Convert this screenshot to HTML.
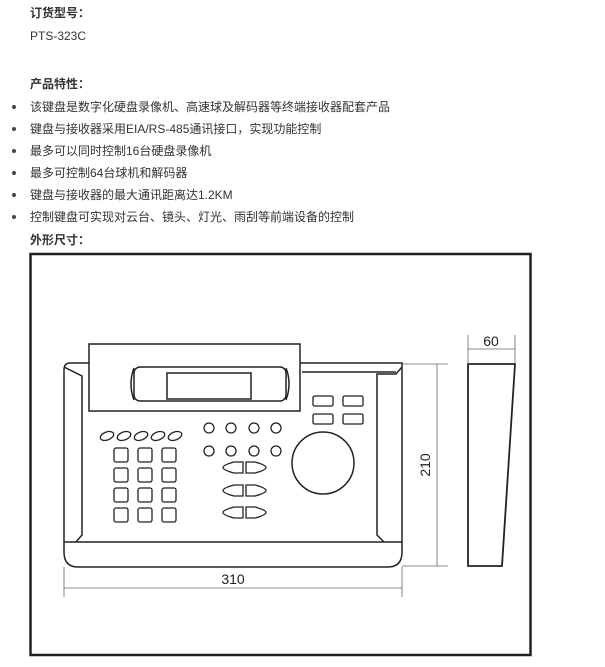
<!DOCTYPE html>
<html><head><meta charset="utf-8"><style>
body{margin:0;width:605px;height:667px;background:#fff;position:relative;font-family:"Liberation Sans","Noto Sans CJK SC",sans-serif;font-size:12px;color:#333;overflow:hidden}
.t{position:absolute;left:30px;white-space:nowrap;line-height:14px}
.b{font-weight:bold}
.d{position:absolute;left:12px;width:4px;height:4px;border-radius:2px;background:#444}
</style></head><body>
<div class="t b" style="top:6px">订货型号：</div>
<div class="t" style="top:29px">PTS-323C</div>
<div class="t b" style="top:77px">产品特性：</div>
<div class="d" style="top:105px"></div><div class="t" style="top:100px">该键盘是数字化硬盘录像机、高速球及解码器等终端接收器配套产品</div>
<div class="d" style="top:127px"></div><div class="t" style="top:122px">键盘与接收器采用EIA/RS-485通讯接口，实现功能控制</div>
<div class="d" style="top:149px"></div><div class="t" style="top:144px">最多可以同时控制16台硬盘录像机</div>
<div class="d" style="top:171px"></div><div class="t" style="top:166px">最多可控制64台球机和解码器</div>
<div class="d" style="top:193px"></div><div class="t" style="top:188px">键盘与接收器的最大通讯距离达1.2KM</div>
<div class="d" style="top:215px"></div><div class="t" style="top:210px">控制键盘可实现对云台、镜头、灯光、雨刮等前端设备的控制</div>
<div class="t b" style="top:233px">外形尺寸：</div>
<svg width="605" height="667" style="position:absolute;left:0;top:0" fill="none" stroke="#222" stroke-width="1.5">
<rect x="30.5" y="254" width="500" height="401" stroke-width="2.5"/>
<!-- body -->
<path d="M70 363 H89 M300 363 H402 V552 Q402 567 388 567 H78 Q64 567 64 552 V370 Q64 363 70 363 Z"/>
<path d="M64 367 L82 376 V535 L76 542 M402 367 L396 374 H377 V535 L384 542"/>
<path d="M302 372 H396"/>
<line x1="64" y1="542" x2="402" y2="542"/>
<rect x="89" y="344" width="211" height="67" fill="#fff"/>
<rect x="134" y="367" width="152" height="34" rx="6"/>
<path d="M134 368 Q128 384 134 400 M286 368 Q292 384 286 400"/>
<rect x="167" y="373" width="84" height="26"/>
<g stroke-width="1.3">
<rect x="313" y="396" width="20" height="10" rx="1.5"/><rect x="343" y="396" width="20" height="10" rx="1.5"/>
<rect x="313" y="414" width="20" height="10" rx="1.5"/><rect x="343" y="414" width="20" height="10" rx="1.5"/>
<ellipse cx="107" cy="436" rx="7" ry="4" transform="rotate(-20 107 436)"/>
<ellipse cx="124" cy="436" rx="7" ry="4" transform="rotate(-20 124 436)"/>
<ellipse cx="141" cy="436" rx="7" ry="4" transform="rotate(-20 141 436)"/>
<ellipse cx="158" cy="436" rx="7" ry="4" transform="rotate(-20 158 436)"/>
<ellipse cx="175" cy="436" rx="7" ry="4" transform="rotate(-20 175 436)"/>
<g>
<rect x="114" y="448" width="14" height="14" rx="2"/><rect x="138" y="448" width="14" height="14" rx="2"/><rect x="162" y="448" width="14" height="14" rx="2"/>
<rect x="114" y="468" width="14" height="14" rx="2"/><rect x="138" y="468" width="14" height="14" rx="2"/><rect x="162" y="468" width="14" height="14" rx="2"/>
<rect x="114" y="488" width="14" height="14" rx="2"/><rect x="138" y="488" width="14" height="14" rx="2"/><rect x="162" y="488" width="14" height="14" rx="2"/>
<rect x="114" y="508" width="14" height="14" rx="2"/><rect x="138" y="508" width="14" height="14" rx="2"/><rect x="162" y="508" width="14" height="14" rx="2"/>
</g>
<circle cx="209" cy="428" r="5"/><circle cx="231" cy="428" r="5"/><circle cx="254" cy="428" r="5"/><circle cx="276" cy="428" r="5"/>
<circle cx="209" cy="451" r="5"/><circle cx="231" cy="451" r="5"/><circle cx="254" cy="451" r="5"/><circle cx="276" cy="451" r="5"/>
<path d="M243 462 V473 H234 Q223 470 223 467.5 Q223 465 234 462 Z M246 462 V473 H255 Q266 470 266 467.5 Q266 465 255 462 Z"/>
<path d="M243 485 V496 H234 Q223 493 223 490.5 Q223 488 234 485 Z M246 485 V496 H255 Q266 493 266 490.5 Q266 488 255 485 Z"/>
<path d="M243 507 V518 H234 Q223 515 223 512.5 Q223 510 234 507 Z M246 507 V518 H255 Q266 515 266 512.5 Q266 510 255 507 Z"/>
</g>
<circle cx="323" cy="463" r="31"/>
<!-- side view -->
<path d="M468 364 H515 L502 566 H468 Z" stroke-width="1.8"/>
<g stroke="#666" stroke-width="0.8">
<line x1="402" y1="364" x2="448" y2="364"/><line x1="402" y1="566" x2="448" y2="566"/><line x1="437" y1="364" x2="437" y2="566"/>
<line x1="468" y1="335" x2="468" y2="364"/><line x1="515" y1="335" x2="515" y2="364"/><line x1="468" y1="349" x2="515" y2="349"/>
<line x1="64" y1="567" x2="64" y2="597"/><line x1="402" y1="567" x2="402" y2="597"/><line x1="64" y1="588" x2="402" y2="588"/>
</g>
<g fill="#222" stroke="none" font-family="Liberation Sans, sans-serif" font-size="14">
<text x="491" y="346" text-anchor="middle">60</text>
<text x="233" y="584" text-anchor="middle">310</text>
<text transform="translate(430 465) rotate(-90)" text-anchor="middle">210</text>
</g>
</svg>
</body></html>
